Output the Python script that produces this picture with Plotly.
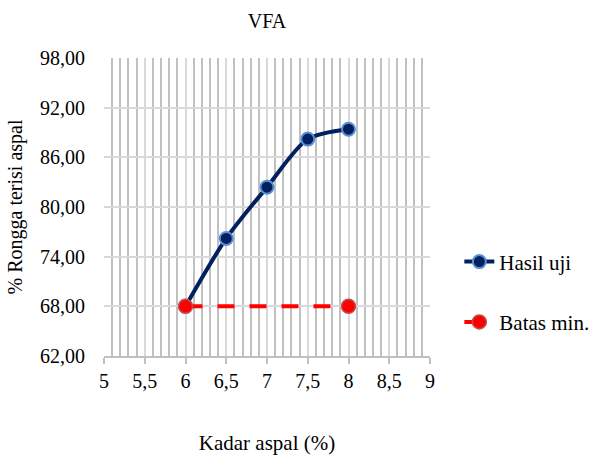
import plotly.graph_objects as go

kadar_hasil = [6, 6.5, 7, 7.5, 8]
vfa_hasil = [68.0, 76.2, 82.4, 88.2, 89.4]
kadar_batas = [6, 8]
vfa_batas = [68.0, 68.0]
y_ticks = [62, 68, 74, 80, 86, 92, 98]
x_ticks = [5, 5.5, 6, 6.5, 7, 7.5, 8, 8.5, 9]

FONT = "Times New Roman"

fig = go.Figure()
fig.add_trace(go.Scatter(
    x=kadar_hasil, y=vfa_hasil, name="Hasil uji", mode="lines+markers",
    line=dict(color="#002060", width=4, shape="spline", smoothing=0.8),
    marker=dict(size=13, color="#002060", line=dict(color="#5b8fd0", width=2)),
    legendgroup="a",
))
fig.add_trace(go.Scatter(
    x=kadar_batas, y=vfa_batas, name="Batas min.", mode="lines+markers",
    line=dict(color="#ff0000", width=4, dash="17px,15px"),
    marker=dict(size=14, color="#ff0000", line=dict(color="#c0504d", width=1.5)),
    legendgroup="b",
))

fig.update_layout(
    width=608, height=459,
    margin=dict(l=104, r=178, t=58, b=103),
    paper_bgcolor="white", plot_bgcolor="white",
    separators=",.",
    font=dict(family=FONT, size=20, color="black"),
    title=dict(text="VFA", x=0.5, xref="paper", xanchor="center", y=0.955, yanchor="middle",
               font=dict(family=FONT, size=20, color="black")),
    showlegend=True,
    legend=dict(x=1.09, y=0.215, xanchor="left", yanchor="middle",
                font=dict(family=FONT, size=21, color="black"),
                tracegroupgap=30, bgcolor="rgba(0,0,0,0)"),
    xaxis=dict(
        range=[5, 9], tickvals=x_ticks, showgrid=True, gridcolor="#d9d9d9", gridwidth=1.5,
        minor=dict(dtick=0.1, showgrid=True, gridcolor="#c0c0c0", gridwidth=1.5, ticks=""),
        showline=True, linecolor="#c0c0c0", linewidth=1.5,
        ticks="outside", ticklen=6, tickcolor="#c0c0c0", tickwidth=1.5,
        ticklabelstandoff=0, zeroline=False, automargin=False,
        tickfont=dict(family=FONT, size=20),
        title=dict(text="Kadar aspal (%)", standoff=45, font=dict(family=FONT, size=21)),
    ),
    yaxis=dict(
        range=[62, 98], tickvals=y_ticks, tickformat=".2f",
        showgrid=True, gridcolor="#d9d9d9", gridwidth=1.5, zeroline=False,
        ticks="", ticklabelstandoff=18, automargin=False,
        tickfont=dict(family=FONT, size=20),
        title=dict(text="% Rongga terisi aspal", standoff=12, font=dict(family=FONT, size=20)),
    ),
)

fig.write_html("out.html")
